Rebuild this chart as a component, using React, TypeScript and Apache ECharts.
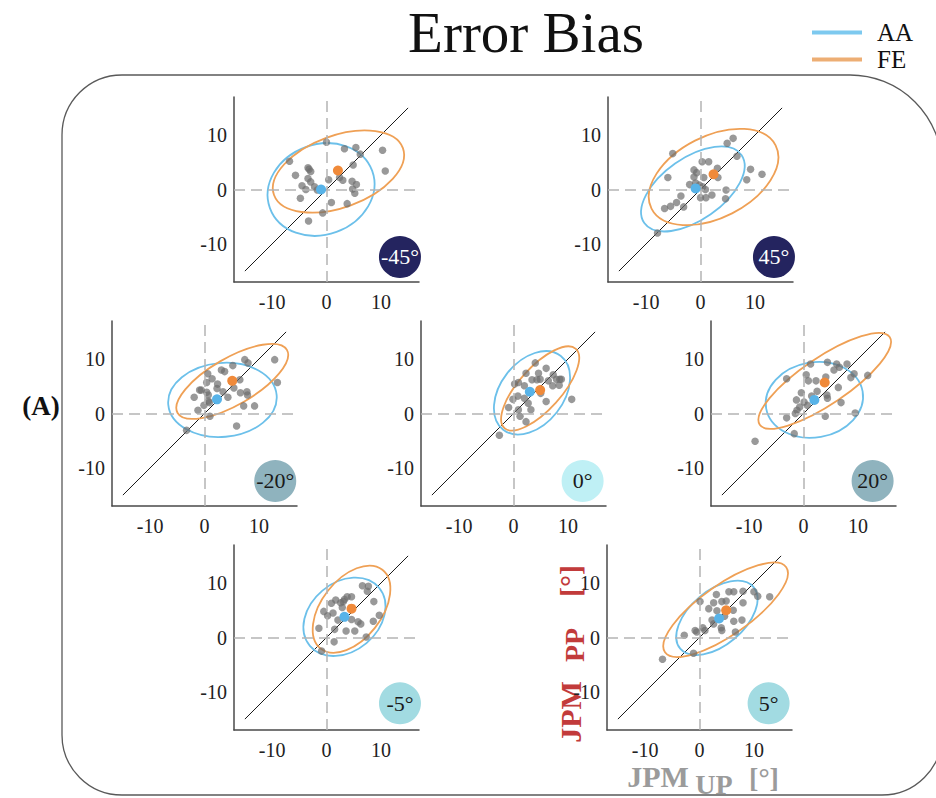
import React, { useEffect, useRef } from 'react';
import * as echarts from 'echarts';

// Panel labels (target orientation of each condition)
const panelNames = ['-45°', '45°', '-20°', '0°', '20°', '-5°', '5°'];

// Individual subject errors per panel: [UP error, PP error] in degrees
const ptsM45: number[][] = [
  [0, 8.7], [3.3, 7.5], [5.4, 7.7], [6.2, 6.5], [10.3, 7.2], [10.8, 3.4], [-6.8, 5.2], [-5.7, 2.6],
  [-3.4, 4.0], [-3.2, 3.7], [-2.9, 3.3], [-3.4, 2.0], [-2.9, 1.4], [-4.5, 0.7], [-3.8, 0], [-4.8, -1.6],
  [-2.2, 0.5], [-1.7, -0.1], [0.4, 1.8], [0.9, -2.4], [-0.7, -4.3], [-3.3, -5.8], [2.4, 2.2], [3.0, 1.7],
  [3.8, -2.6], [4.7, 1.5], [5.5, 0.9], [4.8, 0.1], [5.2, -0.7], [4.9, 4.5],
];
const ptsP45: number[][] = [
  [6.0, 9.4], [4.9, 8.5], [-5.1, 6.6], [0.3, 5.1], [1.5, 5.1], [6.7, 6.1], [-6.0, 2.2], [-1.2, 3.6],
  [-1.2, 2.3], [0.6, 2.2], [3.1, 3.9], [3.2, 2.2], [9.2, 3.7], [11.3, 2.8], [8.5, 1.8], [-2.0, 0.9],
  [-0.9, 1.2], [-0.2, 0.8], [0.4, 0.5], [0.9, 0], [4.7, -0.1], [0, -1.5], [1.0, -1.5], [2.1, -1.0],
  [4.6, -1.7], [-3.6, -1.2], [-4.4, -2.4], [-5.5, -3.1], [-6.6, -3.5], [-3.1, -3.2], [-7.9, -8.0], [-0.7, 3.1],
];
const ptsM20: number[][] = [
  [7.4, 9.9], [8.0, 9.3], [12.9, 9.9], [13.4, 5.7], [5.2, 8.8], [3.1, 8.0], [3.7, 7.7], [0.6, 7.3],
  [1.4, 6.4], [2.4, 5.4], [0.4, 5.7], [-0.9, 4.3], [-0.6, 4.3], [0.4, 3.9], [0.7, 3.4], [2.3, 4.6],
  [3.4, 4.0], [5.4, 4.7], [6.5, 6.2], [6.6, 3.8], [7.8, 4.0], [7.9, 3.4], [4.3, 3.0], [-1.9, 3.0],
  [0.7, 2.3], [0.9, 2.0], [-0.1, 1.5], [7.2, 1.4], [9.2, 1.4], [-1.2, 0.6], [1.0, -0.5], [5.9, -2.3],
  [-3.3, -3.1],
];
const pts0: number[][] = [
  [4.0, 9.3], [6.0, 8.3], [2.3, 7.4], [4.6, 7.4], [7.3, 7.1], [7.9, 6.3], [8.5, 6.3], [3.4, 6.2],
  [4.3, 6.2], [4.9, 6.3], [6.4, 6.0], [0.9, 5.7], [0.2, 5.4], [2.0, 5.1], [7.2, 5.1], [8.4, 5.2],
  [8.8, 6.3], [5.0, 3.7], [6.0, 2.2], [0.8, 3.2], [-0.1, 2.6], [2.0, 2.8], [2.7, 1.9], [-0.9, 1.1],
  [0.9, 0.7], [3.2, 0.7], [1.2, -0.5], [2.3, -1.5], [-2.6, -4.0], [10.7, 2.6],
];
const ptsP20: number[][] = [
  [1.3, 9.1], [4.4, 9.4], [6.1, 9.1], [8.0, 9.1], [5.6, 8.0], [6.6, 8.5], [9.3, 7.3], [11.8, 7.0],
  [8.7, 6.6], [0.5, 7.1], [0.9, 6.0], [2.3, 6.0], [4.1, 6.7], [-3.1, 6.4], [2.5, 4.1], [1.5, 3.2],
  [6.4, 4.8], [4.3, 3.4], [4.4, 2.8], [-0.4, 3.8], [-1.3, 2.5], [0.1, 2.1], [0.7, 1.5], [-0.7, 1.2],
  [-1.2, 0.6], [-1.5, 0], [6.9, 2.0], [9.5, 0.1], [4.0, -0.5], [-3.1, -0.8], [-1.7, -3.7], [-8.9, -5.1],
];
const ptsM5: number[][] = [
  [6.6, 9.5], [7.7, 9.4], [7.5, 8.5], [3.8, 7.5], [4.6, 7.5], [3.3, 7.0], [3.1, 6.6], [1.7, 6.9],
  [0.9, 6.3], [2.6, 6.4], [8.7, 6.6], [2.9, 5.5], [-0.5, 4.8], [0.2, 4.0], [1.2, 4.5], [2.1, 3.2],
  [4.6, 3.3], [5.8, 2.9], [6.3, 2.5], [8.6, 3.0], [9.7, 4.1], [-1.4, 1.7], [1.5, 1.5], [3.6, 1.2],
  [5.2, 1.2], [7.3, 0.1], [1.4, -0.8], [-0.9, -2.5],
];
const ptsP5: number[][] = [
  [0.1, 6.6], [5.4, 8.4], [6.3, 8.4], [8.0, 8.5], [10.0, 8.4], [10.7, 7.6], [12.9, 7.5], [3.1, 7.9],
  [4.1, 6.6], [4.9, 6.7], [2.6, 6.4], [8.0, 6.4], [1.7, 5.3], [3.2, 4.9], [6.2, 5.0], [4.6, 3.9],
  [2.3, 3.2], [2.6, 2.5], [4.0, 1.8], [4.1, 1.3], [6.3, 3.0], [7.8, 3.2], [6.6, 1.0], [0.6, 1.8],
  [1.0, 1.3], [-0.8, 1.3], [-0.5, 1.0], [-2.8, 0.4], [-1.1, -2.9], [-6.8, -4.0],
];
const panelPoints = [ptsM45, ptsP45, ptsM20, pts0, ptsP20, ptsM5, ptsP5];

// Group means per panel
const aaMean: number[][] = [[-1.0, 0.0], [-0.9, 0.2], [2.3, 2.6], [3.0, 4.0], [2.0, 2.5], [3.3, 3.8], [3.6, 3.5]];
const feMean: number[][] = [[2.1, 3.5], [2.4, 2.8], [5.1, 6.0], [4.9, 4.3], [3.9, 5.7], [4.6, 5.3], [4.9, 5.0]];

// Confidence ellipses: [centre x, centre y, semi-major, semi-minor, tilt in degrees]
const aaEllipse: number[][] = [
  [-1.0, 0.0, 10.0, 8.3, 20], [-1.4, 0.1, 10.9, 5.7, 35], [3.3, 2.5, 10.0, 6.8, 5], [3.4, 3.8, 8.6, 5.8, 52],
  [2.0, 2.5, 9.0, 6.9, 10], [3.3, 3.8, 8.3, 6.3, 40], [3.2, 3.6, 8.8, 5.0, 40],
];
const feEllipse: number[][] = [
  [2.2, 3.3, 12.6, 6.6, 20], [2.4, 2.3, 12.8, 7.5, 27], [5.1, 5.9, 11.6, 4.3, 30], [4.9, 4.6, 9.8, 3.9, 48],
  [3.9, 6.0, 14.4, 4.3, 34], [4.6, 5.2, 9.2, 5.5, 52], [4.8, 5.1, 13.6, 4.6, 35],
];

// Identity line endpoints
const identity: number[][] = [[-15, -15], [15, 15]];
const tickValues = [-10, 0, 10];

// Layout: grid origin (left, top) of every panel, plus badge anchor in data units
const gridAt: number[][] = [[234, 97], [608, 97], [112, 321], [421, 321], [711, 321], [234, 545], [607, 545]];
const badgeAt: number[][] = [[13.5, -12.4], [13.5, -12.4], [13.0, -12.4], [12.7, -12.4], [12.7, -12.4], [13.5, -12.1], [12.7, -12.1]];
const badgeFill = ['#24245f', '#24245f', '#8fb3be', '#bff0f5', '#8fb3be', '#a2dbe2', '#a2dbe2'];
const badgeInk = ['#ffffff', '#ffffff', '#1a1a1a', '#1a1a1a', '#1a1a1a', '#1a1a1a', '#1a1a1a'];

const SERIF = '"Liberation Serif", "Times New Roman", serif';
const AA_COLOR = '#6cc0ea';
const FE_COLOR = '#efa055';
const SIZE = 185;

const ellipseRenderer = (color: string) => (_params: any, api: any) => {
  const c = api.coord([api.value(0), api.value(1)]);
  const s = api.size([api.value(2), api.value(3)]);
  return {
    type: 'ellipse',
    x: c[0],
    y: c[1],
    rotation: (api.value(4) * Math.PI) / 180,
    shape: { cx: 0, cy: 0, rx: s[0], ry: s[1] },
    style: { fill: 'none', stroke: color, lineWidth: 1.8 },
  };
};

function buildOption() {
  const grid: any[] = [];
  const xAxis: any[] = [];
  const yAxis: any[] = [];
  const series: any[] = [];

  panelNames.forEach((name, i) => {
    grid.push({ left: gridAt[i][0], top: gridAt[i][1], width: SIZE, height: SIZE });
    const axisCommon = {
      gridIndex: i,
      type: 'value',
      min: -17,
      max: 17,
      axisLine: { show: true, onZero: false, lineStyle: { color: '#4a4a4a', width: 1.5 } },
      axisTick: { show: false },
      splitLine: { show: false },
    };
    xAxis.push({
      ...axisCommon,
      position: 'bottom',
      axisLabel: { customValues: tickValues, fontFamily: SERIF, fontSize: 20, color: '#222222', margin: 10 },
    });
    yAxis.push({
      ...axisCommon,
      position: 'left',
      axisLabel: { customValues: tickValues, fontFamily: SERIF, fontSize: 20, color: '#222222', margin: 7 },
    });

    // identity line with dashed zero references
    series.push({
      type: 'line',
      xAxisIndex: i,
      yAxisIndex: i,
      data: identity,
      symbol: 'none',
      silent: true,
      z: 2,
      lineStyle: { color: '#1a1a1a', width: 1 },
      markLine: {
        silent: true,
        symbol: ['none', 'none'],
        label: { show: false },
        lineStyle: { color: '#b4b4b4', width: 1.5, type: [11, 6] },
        data: [{ xAxis: 0 }, { yAxis: 0 }],
      },
    });
    series.push({
      name: 'AA',
      type: 'custom',
      xAxisIndex: i,
      yAxisIndex: i,
      data: [aaEllipse[i]],
      encode: { x: 0, y: 1 },
      renderItem: ellipseRenderer(AA_COLOR),
      itemStyle: { color: AA_COLOR },
      silent: true,
      z: 3,
    });
    series.push({
      name: 'FE',
      type: 'custom',
      xAxisIndex: i,
      yAxisIndex: i,
      data: [feEllipse[i]],
      encode: { x: 0, y: 1 },
      renderItem: ellipseRenderer(FE_COLOR),
      itemStyle: { color: FE_COLOR },
      silent: true,
      z: 3,
    });
    series.push({
      type: 'scatter',
      xAxisIndex: i,
      yAxisIndex: i,
      data: panelPoints[i],
      symbolSize: 7.5,
      itemStyle: { color: '#6e6e6e', opacity: 0.7 },
      z: 4,
    });
    series.push({
      type: 'scatter',
      xAxisIndex: i,
      yAxisIndex: i,
      data: [aaMean[i]],
      symbolSize: 10,
      itemStyle: { color: '#58b3e8', opacity: 1 },
      z: 5,
    });
    series.push({
      type: 'scatter',
      xAxisIndex: i,
      yAxisIndex: i,
      data: [feMean[i]],
      symbolSize: 10,
      itemStyle: { color: '#f08a3a', opacity: 1 },
      z: 5,
    });
    series.push({
      type: 'scatter',
      xAxisIndex: i,
      yAxisIndex: i,
      data: [badgeAt[i]],
      symbolSize: 42,
      silent: true,
      itemStyle: { color: badgeFill[i], opacity: 1 },
      label: {
        show: true,
        position: 'inside',
        formatter: name,
        fontFamily: SERIF,
        fontSize: 22,
        color: badgeInk[i],
      },
      z: 6,
    });
  });

  const axisTitle = (text: string, x: number, y: number, size: number, fill: string, rotation = 0) => ({
    type: 'text',
    x,
    y,
    rotation,
    style: {
      text,
      fontFamily: SERIF,
      fontSize: size,
      fontWeight: 'bold',
      fill,
      align: 'center',
      verticalAlign: 'middle',
    },
  });

  return {
    animation: false,
    backgroundColor: '#ffffff',
    legend: {
      orient: 'vertical',
      left: 807,
      top: 15,
      padding: 5,
      itemWidth: 50,
      itemHeight: 4,
      itemGap: 2,
      selectedMode: false,
      data: [
        { name: 'AA', icon: 'rect', itemStyle: { color: '#7dc9ef' } },
        { name: 'FE', icon: 'rect', itemStyle: { color: '#edae74' } },
      ],
      textStyle: { fontFamily: SERIF, fontSize: 25, color: '#111111', lineHeight: 25, padding: [0, 0, 0, 10] },
    },
    graphic: [
      {
        type: 'rect',
        z: -10,
        shape: { x: 62, y: 75, width: 880, height: 720, r: [60, 92, 60, 60] },
        style: { fill: 'none', stroke: '#595959', lineWidth: 1.3 },
      },
      {
        type: 'text',
        x: 526,
        y: 32,
        style: { text: 'Error Bias', fontFamily: SERIF, fontSize: 57, fill: '#111111', align: 'center', verticalAlign: 'middle' },
      },
      {
        type: 'text',
        x: 41,
        y: 406,
        style: { text: '(A)', fontFamily: SERIF, fontSize: 27, fontWeight: 'bold', fill: '#111111', align: 'center', verticalAlign: 'middle' },
      },
      axisTitle('JPM', 658, 776, 30, '#9b9b9b'),
      axisTitle('UP', 714, 784, 28, '#9b9b9b'),
      axisTitle('[°]', 764, 777, 28, '#9b9b9b'),
      axisTitle('JPM', 570, 712, 30, '#c23b3b', Math.PI / 2),
      axisTitle('PP', 574, 645, 28, '#c23b3b', Math.PI / 2),
      axisTitle('[°]', 570, 581, 30, '#c23b3b', Math.PI / 2),
    ],
    grid,
    xAxis,
    yAxis,
    series,
  };
}

export default function App() {
  const ref = useRef<HTMLDivElement>(null);
  useEffect(() => {
    document.body.style.margin = '0';
    const chart = echarts.init(ref.current!, undefined, { renderer: 'svg' });
    chart.setOption(buildOption() as any);
    return () => chart.dispose();
  }, []);
  return <div ref={ref} style={{ width: 936, height: 798 }} />;
}
